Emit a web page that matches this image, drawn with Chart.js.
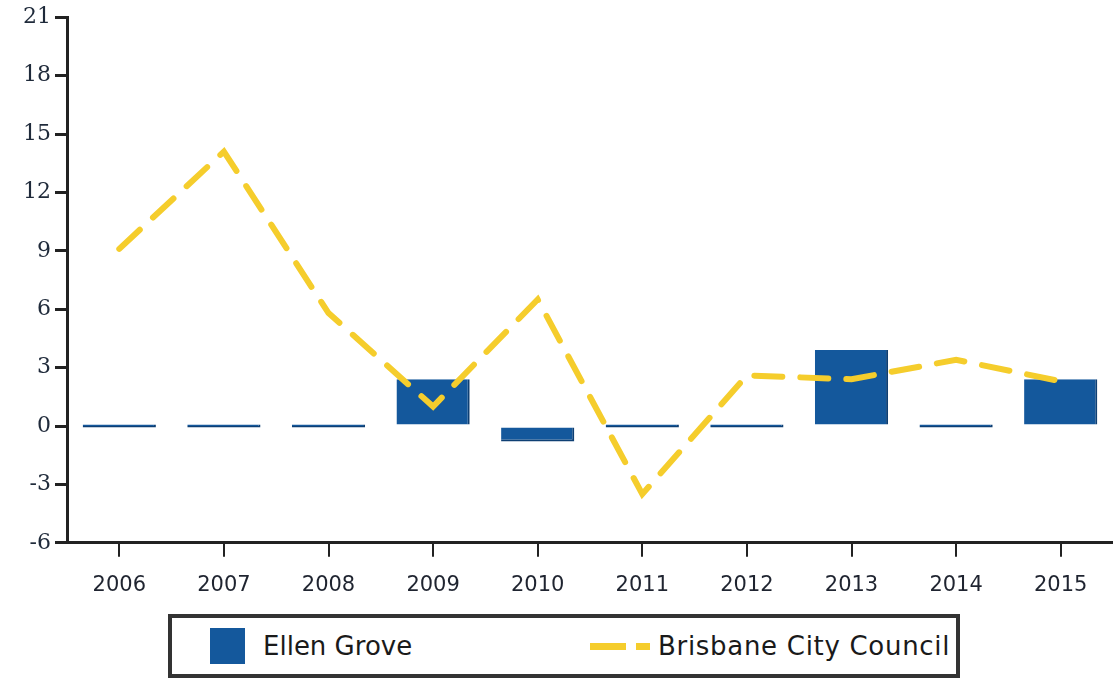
<!DOCTYPE html>
<html>
<head>
<meta charset="utf-8">
<script src="https://cdn.jsdelivr.net/npm/chart.js@4"></script>
<style>
    body { margin: 0; background: #fff; width: 1113px; height: 682px; overflow: hidden; font-family: "DejaVu Sans", sans-serif; }
    #wrap { position: absolute; left: 0; top: 0; width: 1113px; height: 614px; }
    #legend {
        position: absolute; left: 168px; top: 614px; width: 784px; height: 56px;
        border: 4px solid #333; box-sizing: content-box; background: #fff;
        color: #1a1a1a; font-size: 26px; white-space: nowrap;
    }
    .item { position: absolute; top: 0; height: 56px; display: flex; align-items: center; }
    .sq { width: 35px; height: 36px; background: #14589c; margin-right: 18px; }
    .dash { width: 60px; height: 7px; margin-right: 8px;
        background: linear-gradient(to right, #f5cd2c 0 36px, transparent 36px 46px, #f5cd2c 46px 60px); }
</style>
</head>
<body>
<div id="wrap"><canvas id="chart"></canvas></div>
<div id="legend">
    <div class="item" style="left:38px"><div class="sq"></div>Ellen Grove</div>
    <div class="item" style="left:418px; letter-spacing: 0.7px"><div class="dash"></div>Brisbane City Council</div>
</div>
<script>
    // Данные графика
    const years = ['2006', '2007', '2008', '2009', '2010', '2011', '2012', '2013', '2014', '2015'];
    const ellenGrove = [0, 0, 0, 2.4, -0.8, 0, 0, 3.9, 0, 2.4];
    const brisbane = [9.1, 14.1, 5.8, 1.0, 6.5, -3.5, 2.6, 2.4, 3.4, 2.3];
    const yMin = -6, yMax = 21, yStep = 3;

    const ctx = document.getElementById('chart').getContext('2d');

    const chart = new Chart(ctx, {
        type: 'bar',
        data: {
            labels: years,
            datasets: [{
                type: 'line',
                label: 'Brisbane City Council',
                data: brisbane,
                borderColor: '#f5cd2c',
                borderWidth: 6,
                borderDash: [28, 18],
                borderCapStyle: 'round',
                pointRadius: 0,
                tension: 0,
                order: 0
            }, {
                label: 'Ellen Grove',
                data: ellenGrove,
                backgroundColor: '#14589c',
                borderColor: '#0e3f73',
                borderWidth: { right: 2, bottom: 2 },
                minBarLength: 3,
                barPercentage: 0.7,
                categoryPercentage: 1,
                order: 1
            }]
        },
        options: {
            responsive: true,
            maintainAspectRatio: false,
            animation: false,
            layout: { padding: { top: 8, right: 0, left: 0, bottom: 0 } },
            plugins: {
                legend: { display: false },
                tooltip: { enabled: false }
            },
            scales: {
                x: {
                    grid: { offset: false, drawOnChartArea: false, drawTicks: true, tickLength: 14, color: '#222', lineWidth: 2 },
                    border: { color: '#222', width: 3 },
                    ticks: { color: '#1f2430', font: { family: 'DejaVu Sans', size: 21 }, padding: 16 }
                },
                y: {
                    min: yMin,
                    max: yMax,
                    grid: { drawOnChartArea: false, drawTicks: true, tickLength: 12, color: '#222', lineWidth: 3 },
                    border: { color: '#222', width: 3 },
                    ticks: { stepSize: yStep, color: '#1f2a3a', font: { family: 'DejaVu Serif', size: 22 }, padding: 4 },
                    afterFit: (scale) => { scale.width = 67; }
                }
            }
        }
    });
</script>
</body>
</html>
